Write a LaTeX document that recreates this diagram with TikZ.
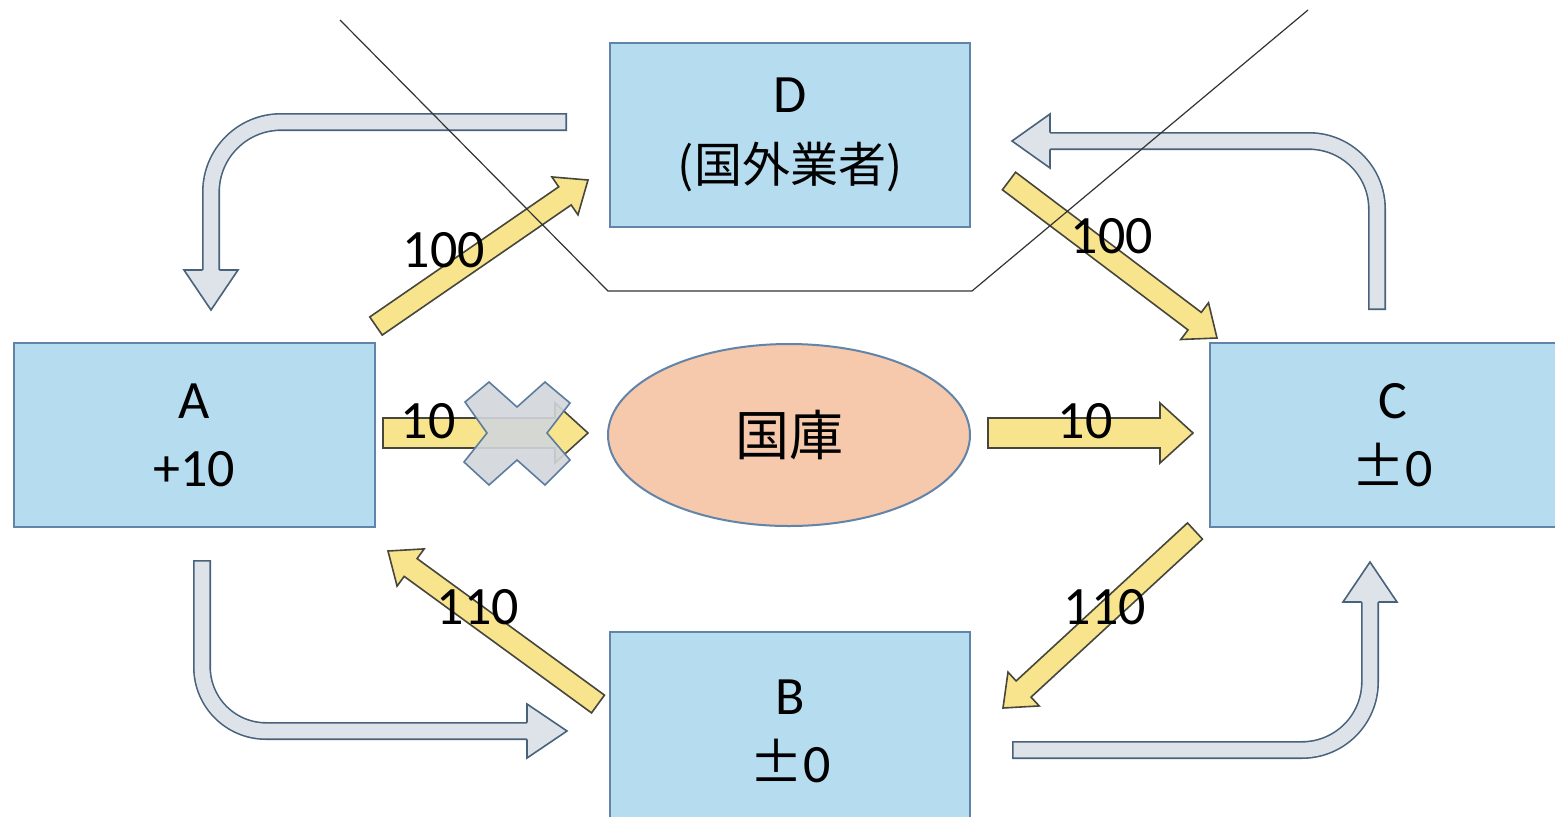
\documentclass[tikz,border=0pt]{standalone}
\usepackage{fontspec}
\setmainfont{Carlito}
\newfontfamily\jp{Noto Sans CJK JP}
\usetikzlibrary{calc,shapes.geometric}
\definecolor{boxfill}{RGB}{182,220,240}
\definecolor{boxline}{RGB}{98,132,168}
\definecolor{ellfill}{RGB}{246,200,172}
\definecolor{yfill}{RGB}{247,228,140}
\definecolor{yline}{RGB}{70,70,60}
\definecolor{gfill}{RGB}{222,227,234}
\definecolor{gline}{RGB}{72,98,124}
\definecolor{xfill}{RGB}{210,214,219}
\definecolor{xline}{RGB}{92,124,160}
\tikzset{
  box/.style={draw=boxline, line width=1pt, fill=boxfill, align=center,
    font=\fontsize{27}{34}\selectfont, inner sep=0pt},
  ell/.style={ellipse, draw=boxline, line width=1pt, fill=ellfill, inner sep=0pt,
    font=\jp\fontsize{27}{30}\selectfont},
  yarrowstyle/.style={fill=yfill, draw=yline, line width=0.8pt, line join=miter},
  gout/.style={draw=gline, line width=9pt},
  gin/.style={draw=gfill, line width=7.4pt},
  ghead/.style={draw=gline, line width=0.8pt, line join=miter},
  lbl/.style={inner sep=0pt, font=\fontsize{27}{30}\selectfont},
  thinline/.style={draw=black!80, line width=0.6pt},
}
\newcommand\widepm{{\jp ±}}
\newcommand\yblock[5]{%
  \coordinate (yb) at ($(#2)!#5!(#1)$);
  \filldraw[yarrowstyle] ($(#1)!#3!90:(#2)$) -- ($(yb)!#3!90:(#2)$) -- ($(yb)!#4!90:(#2)$) -- (#2) -- ($(yb)!#4!-90:(#2)$) -- ($(yb)!#3!-90:(#2)$) -- ($(#1)!#3!-90:(#2)$) -- cycle;
}
\newcommand\garrow[5]{%
  \draw[gout, rounded corners=#5] (#1) -- (#2) -- (#3);
  \draw[gin, rounded corners=#5] ($(#1)!0.8pt!(#2)$) -- (#2) -- (#3);
  \fill[gfill] ($(#3)!4.2pt!90:(#4)$) -- ($(#3)!13.5pt!90:(#4)$) -- (#4) -- ($(#3)!13.5pt!-90:(#4)$) -- ($(#3)!4.2pt!-90:(#4)$) -- cycle;
  \draw[ghead] ($(#3)!4.2pt!90:(#4)$) -- ($(#3)!13.5pt!90:(#4)$) -- (#4) -- ($(#3)!13.5pt!-90:(#4)$) -- ($(#3)!4.2pt!-90:(#4)$);
}
\begin{document}
\begin{tikzpicture}[x=0.5pt, y=-0.5pt]
\useasboundingbox (0,0) rectangle (1555,816);
\clip (0,0) rectangle (1555,816);
\fill[white] (0,0) rectangle (1555,816);

% boxes
\node[box, minimum width=180pt, minimum height=92pt] (D) at (790,135) {D\\[1pt]{\jp\fontsize{24}{30}\selectfont (国外業者)}};
\node[box, minimum width=180.5pt, minimum height=92pt] (A) at (194.5,435) {A\\+10};
\node[box, minimum width=182.5pt, minimum height=92pt] (C) at (1392.5,435) {C\\\widepm 0};
\node[box, minimum width=180pt, minimum height=99pt] (B) at (790,731) {B\\\widepm 0};
\node[ell, minimum width=181pt, minimum height=91pt] (K) at (789,435) {国庫};

% gray curved arrows
\coordinate (g1s) at (567,122); \coordinate (g1c) at (211,122); \coordinate (g1b) at (211,270); \coordinate (g1t) at (211,310);
\coordinate (g2s) at (1377,310); \coordinate (g2c) at (1377,141); \coordinate (g2b) at (1050,141); \coordinate (g2t) at (1012,141);
\coordinate (g3s) at (202,560); \coordinate (g3c) at (202,731); \coordinate (g3b) at (527,731); \coordinate (g3t) at (567,731);
\coordinate (g4s) at (1012,750); \coordinate (g4c) at (1370,750); \coordinate (g4b) at (1370,602); \coordinate (g4t) at (1370,562);
\garrow{g1s}{g1c}{g1b}{g1t}{35pt}
\garrow{g2s}{g2c}{g2b}{g2t}{34pt}
\garrow{g3s}{g3c}{g3b}{g3t}{32pt}
\garrow{g4s}{g4c}{g4b}{g4t}{34pt}

% yellow arrows
\coordinate (y1s) at (376,326); \coordinate (y1e) at (588,180);
\coordinate (y2s) at (1009,181); \coordinate (y2e) at (1217,338);
\coordinate (y3s) at (383,433); \coordinate (y3e) at (588,433);
\coordinate (y4s) at (988,433); \coordinate (y4e) at (1193,433);
\coordinate (y5s) at (598,704); \coordinate (y5e) at (388,551);
\coordinate (y6s) at (1195,531); \coordinate (y6e) at (1003,708);
\yblock{y1s}{y1e}{5.5pt}{11.5pt}{14pt}
\yblock{y2s}{y2e}{5.5pt}{11.5pt}{14pt}
\yblock{y3s}{y3e}{7.5pt}{15pt}{16.5pt}
\yblock{y4s}{y4e}{7.5pt}{15pt}{16.5pt}
\yblock{y5s}{y5e}{5.5pt}{11.5pt}{14pt}
\yblock{y6s}{y6e}{5.5pt}{11.5pt}{14pt}

% cross over the blocked payment
\filldraw[fill=xfill, fill opacity=0.9, draw=xline, line width=0.8pt, line join=miter]
  (465,402) -- (489,382) -- (517,407) -- (545,382) -- (570,403) -- (547,433)
  -- (570,460) -- (545,485) -- (517,460) -- (489,485) -- (464,462) -- (487,433) -- cycle;

% thin line
\draw[thinline] (340,20) -- (608,291) -- (972,291) -- (1308,10);

% labels
\node[lbl] (l1) at (444,250) {100};
\node[lbl] (l2) at (1112,236) {100};
\node[lbl] (l3) at (428,421) {10};
\node[lbl] (l4) at (1085,421) {10};
\node[lbl] (l5) at (478,607) {110};
\node[lbl] (l6) at (1105,607) {110};
\end{tikzpicture}
\end{document}
